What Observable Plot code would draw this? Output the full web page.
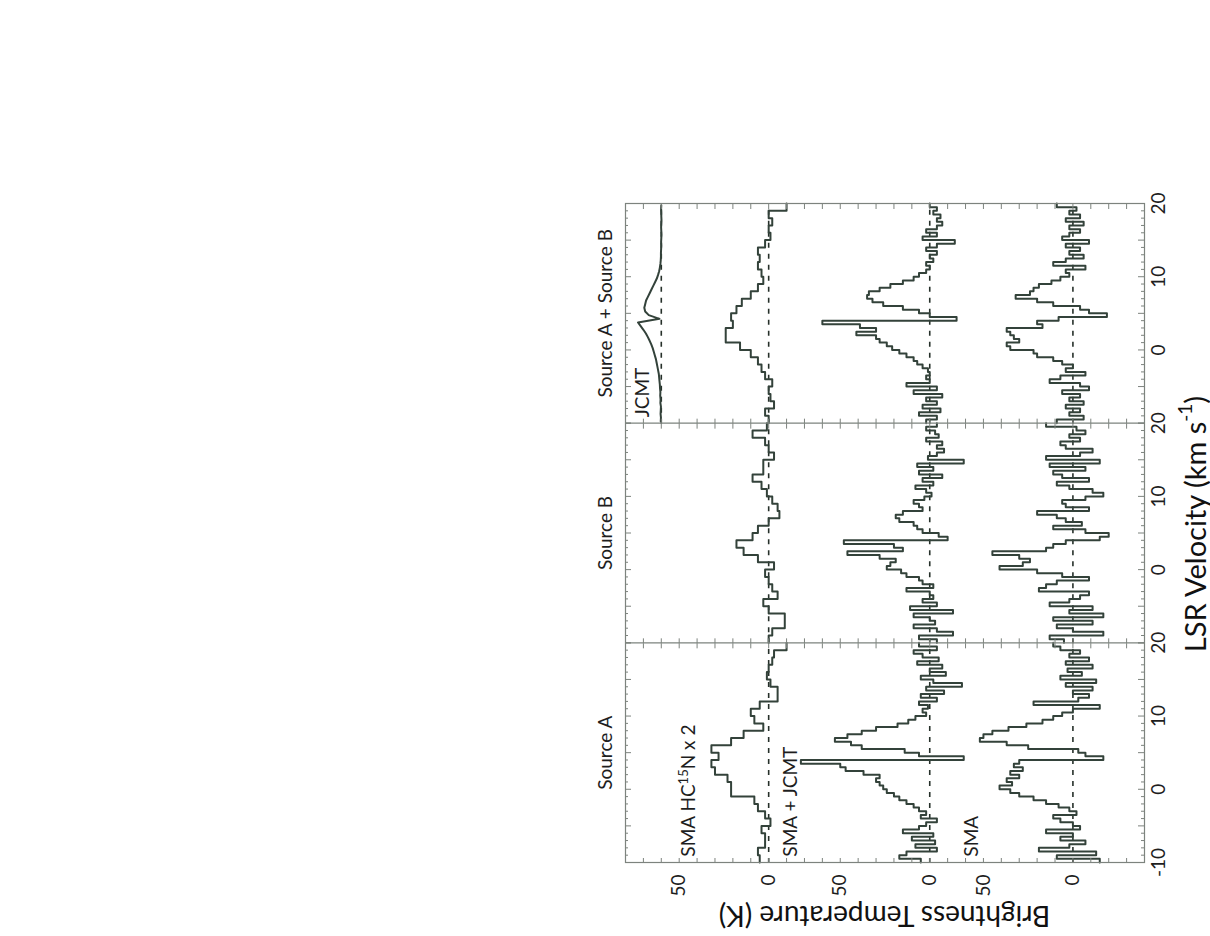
<!DOCTYPE html>
<html><head><meta charset="utf-8">
<script src="https://cdn.jsdelivr.net/npm/d3@7"></script>
<script src="https://cdn.jsdelivr.net/npm/@observablehq/plot@0.6"></script>
<style>
html,body{margin:0;padding:0;background:#fff;width:1210px;height:936px;overflow:hidden;}
#chart{position:absolute;left:580px;top:936px;width:744px;height:630px;transform-origin:0 0;transform:rotate(-90deg);}
#chart svg{max-width:none !important;width:744px;height:630px;display:block;}
</style></head>
<body><div id="chart"></div>
<script>
// ---------------- data ----------------
const panels = ["Source A", "Source B", "Source A + Source B"];
const velocityStart = -10, velocitySpan = 30;

// SMA + JCMT combined spectra, 0.5 km/s channels from -10 to 20 km/s (K)
const smaJcmtA = [5,17,13,-4,8,-3,10,-2,15,6, 2,-4,5,2,6,9,13,17,20,24, 26,28,30,28,37,47,50,72,-19,6, 14,38,44,53,46,38,30,18,12,8, 2,4,1,6,-4,5,-8,2,-18,-2, 5,-9,0,-7,7,-5,4,9,-4,6];
const smaJcmtB = [-4,6,-13,-4,9,-3,0,9,-13,11, -4,4,-2,0,13,-2,4,6,13,16, 24,22,19,28,46,15,20,48,-10,-5, 4,7,9,17,19,15,4,6,9,3, -1,2,8,-2,4,-7,6,-2,7,-19, 1,-4,-8,-4,-7,2,-5,-3,2,-4];
const smaJcmtAB = [2,-4,6,-6,4,-4,2,-7,9,-4, 13,0,2,0,1,4,7,9,13,17, 21,24,28,30,41,30,39,60,-15,0, 6,15,26,32,35,34,28,22,15,9, 6,2,0,2,-2,0,-4,2,-4,-14, 4,-4,2,-4,-7,-4,-6,-2,-4,0];

// SMA-only spectra, 0.5 km/s channels (K)
const smaA = [-15,9,-13,19,2,-7,7,0,15,-4, 0,7,11,-2,2,8,15,22,30,35, 41,34,37,30,35,28,33,30,-17,-7, -3,25,37,52,50,45,36,26,17,11, 6,0,-15,22,-3,-9,0,-11,4,-13, 7,-5,3,-11,4,-9,2,-4,7,11];
const smaB = [5,13,-17,0,9,-11,11,-17,2,-11, 13,2,-4,-9,19,15,9,-9,6,20, 41,28,24,30,45,15,11,4,-15,-20, -7,11,-5,4,9,20,-9,4,6,-7, -17,-11,2,9,-9,6,11,-7,13,-15, 15,-4,-11,4,7,-4,2,-7,-2,15];
const smaAB = [9,-6,2,-4,4,-6,2,-4,6,-9, -4,13,7,-7,4,0,6,11,20,22, 35,37,30,33,35,37,17,20,8,-19, -9,-4,11,20,32,24,22,19,12,7, 2,4,-7,11,4,-6,2,-4,4,-9, 6,2,-4,2,-6,4,-4,2,-2,9];

// SMA HC15N x 2, 1 km/s channels (K)
const hc15nA = [5,6,2,2,4,-1,2,6,8,21, 21,23,30,32,28,32,21,14,3,8, 10,5,-5,-5,-1,1,0,-2,-3,-10];
const hc15nB = [0,-2,-9,-9,0,3,-5,-2,0,2, -3,6,14,18,9,6,0,-6,-5,-2, 1,4,9,3,3,-3,0,2,9,1];
const hc15nAB = [0,2,-3,-1,0,-2,2,4,6,10, 16,24,24,20,21,18,15,10,6,3, 4,6,5,6,2,-1,0,-2,0,-10];

// JCMT single dish (Source A + Source B panel), 0.5 km/s channels (K)
const jcmtAB = [0.3,0.2,0.4,0.3,0.2,0.5,0.4,0.6,0.5,0.7,0.8,1.0,
  1.2,1.4,1.8,2.2,2.6,3.0,3.6,4.2,4.8,5.6,6.5,7.5,8.6,10,11.5,13,
  1,7,9,9.5,9,8.5,7.5,6.5,5.5,4.5,3.5,2.5,1.8,1.2,0.8,0.5,
  0.3,0.2,0.2,0.1,0,0.1,0,-0.1,0,0.1,0,-0.1,0,0,0.1,0];

// vertical offsets of the stacked spectra (K)
const offsetSMA = 0, offsetSmaJcmt = 80, offsetHC15N = 170, offsetJCMT = 230;

// tick labels
const velocityTicks = [0,10,20,30,40,50,60,70,80,90];
const velocityTickLabels = ["-10","0","10","20","0","10","20","0","10","20"];
const tempTicks = [0,50,80,130,170,220];
const tempTickLabels = ["0","50","0","50","0","50"];

// spectrum labels
const seriesLabels = ["SMA HC15N x 2", "SMA + JCMT", "SMA", "JCMT"];
const seriesLabelPanel = [0, 0, 0, 2];
const seriesLabelTemp = [211, 154, 53, 237];
const seriesLabelVel = -9.2;

// ---------------- layout ----------------
const W = 744, H = 630, mT = 45, mR = 12, mB = 66, mL = 73;
const xDomain = [0, 3 * velocitySpan], yDomain = [-40, 250];
const kx = (W - mL - mR) / (xDomain[1] - xDomain[0]);
const ky = (H - mT - mB) / (yDomain[1] - yDomain[0]);
const ink = "#33423a", frameColor = "#7d837e";
const font = "Lato, 'Open Sans', sans-serif";

// ---------------- build rows ----------------
function stepRows(values, dv, panel, offset, key) {
  const rows = values.map((t, i) => ({x: panel * velocitySpan + i * dv, T: t + offset, key}));
  rows.push({x: panel * velocitySpan + values.length * dv, T: values[values.length - 1] + offset, key});
  return rows;
}
const spectra = [
  ...stepRows(smaA, 0.5, 0, offsetSMA, "smaA"),
  ...stepRows(smaB, 0.5, 1, offsetSMA, "smaB"),
  ...stepRows(smaAB, 0.5, 2, offsetSMA, "smaAB"),
  ...stepRows(smaJcmtA, 0.5, 0, offsetSmaJcmt, "sjA"),
  ...stepRows(smaJcmtB, 0.5, 1, offsetSmaJcmt, "sjB"),
  ...stepRows(smaJcmtAB, 0.5, 2, offsetSmaJcmt, "sjAB"),
  ...stepRows(hc15nA, 1, 0, offsetHC15N, "hA"),
  ...stepRows(hc15nB, 1, 1, offsetHC15N, "hB"),
  ...stepRows(hc15nAB, 1, 2, offsetHC15N, "hAB")
];
const jcmtRows = jcmtAB.map((t, i) => ({x: 2 * velocitySpan + (i + 0.5) * 0.5, T: t + offsetJCMT}));

const baselines = [];
[0, 1, 2].forEach(p => [offsetSMA, offsetSmaJcmt, offsetHC15N].forEach(o =>
  baselines.push({x1: p * velocitySpan, x2: (p + 1) * velocitySpan, T: o})));
baselines.push({x1: 2 * velocitySpan, x2: 3 * velocitySpan, T: offsetJCMT});

// inward ticks
const velTickRows = [];
[0, 1, 2].forEach(p => d3.range(0, velocitySpan + 1, 1).forEach(j => {
  const len = (j % 5 === 0) ? 6 : 3;
  const x = p * velocitySpan + j;
  velTickRows.push({x, y1: yDomain[0], y2: yDomain[0] + len / ky});
  velTickRows.push({x, y1: yDomain[1], y2: yDomain[1] - len / ky});
}));
const tempTickRows = [];
d3.range(yDomain[0], yDomain[1] + 1, 10).forEach(T => {
  [0, 1, 2].forEach(p => {
    tempTickRows.push({T, x1: p * velocitySpan, x2: p * velocitySpan + 5 / kx});
    tempTickRows.push({T, x1: (p + 1) * velocitySpan, x2: (p + 1) * velocitySpan - 5 / kx});
  });
});
const labelRows = seriesLabels.map((s, i) => ({
  text: s, x: seriesLabelPanel[i] * velocitySpan + (seriesLabelVel - velocityStart), T: seriesLabelTemp[i]
}));

// ---------------- plot ----------------
const svg = Plot.plot({
  width: W, height: H,
  marginTop: mT, marginRight: mR, marginBottom: mB, marginLeft: mL,
  style: {fontFamily: font, fontSize: "19px", color: "#1e1e1e", background: "white", overflow: "visible", maxWidth: "none"},
  x: {domain: xDomain, ticks: velocityTicks, tickFormat: d => velocityTickLabels[velocityTicks.indexOf(d)], tickSize: 0, tickPadding: 7, label: null},
  y: {domain: yDomain, ticks: tempTicks, tickFormat: d => tempTickLabels[tempTicks.indexOf(d)], tickSize: 0, tickPadding: 12, label: null},
  marks: [
    Plot.ruleY(baselines, {x1: "x1", x2: "x2", y: "T", stroke: "#26302a", strokeWidth: 1.6, strokeDasharray: "5,6"}),
    Plot.line(spectra, {x: "x", y: "T", z: "key", curve: "step-after", stroke: ink, strokeWidth: 2}),
    Plot.line(jcmtRows, {x: "x", y: "T", curve: "linear", stroke: ink, strokeWidth: 2}),
    Plot.ruleX(velTickRows, {x: "x", y1: "y1", y2: "y2", stroke: frameColor, strokeWidth: 1}),
    Plot.ruleY(tempTickRows, {y: "T", x1: "x1", x2: "x2", stroke: frameColor, strokeWidth: 1}),
    Plot.ruleX([velocitySpan, 2 * velocitySpan], {stroke: frameColor, strokeWidth: 1.2}),
    Plot.frame({stroke: frameColor, strokeWidth: 1.2}),
    Plot.text(labelRows, {x: "x", y: "T", text: "text", textAnchor: "start", lineAnchor: "bottom", fontSize: 19, fill: "#1e1e1e"}),
    Plot.text(panels, {x: (d, i) => i * velocitySpan + velocitySpan / 2, y: () => yDomain[1], text: d => d, dy: -20, lineAnchor: "middle", fontSize: 19, fill: "#1e1e1e"})
  ]
});

// superscripts
const sel = d3.select(svg);
sel.selectAll("text").filter(function () { return this.textContent === "SMA HC15N x 2"; }).each(function () {
  const t = d3.select(this); t.text(null);
  t.append("tspan").text("SMA HC");
  t.append("tspan").attr("dy", -7).attr("font-size", 13).text("15");
  t.append("tspan").attr("dy", 7).text("N x 2");
});

// axis titles
const xt = sel.append("text")
  .attr("x", 412).attr("y", H - mB + 50)
  .attr("text-anchor", "middle").attr("dominant-baseline", "central")
  .attr("font-family", font).attr("font-size", 29).attr("fill", "#111");
xt.append("tspan").text("LSR Velocity (km s");
xt.append("tspan").attr("dy", -10).attr("font-size", 19).text("-1");
xt.append("tspan").attr("dy", 10).text(")");

sel.append("text")
  .attr("transform", `translate(19,${(mT + H - mB) / 2}) rotate(-90)`)
  .attr("text-anchor", "middle").attr("dominant-baseline", "central")
  .attr("font-family", font).attr("font-size", 28).attr("fill", "#111")
  .text("Brightness Temperature (K)");

document.getElementById("chart").appendChild(svg);
</script>
</body></html>
